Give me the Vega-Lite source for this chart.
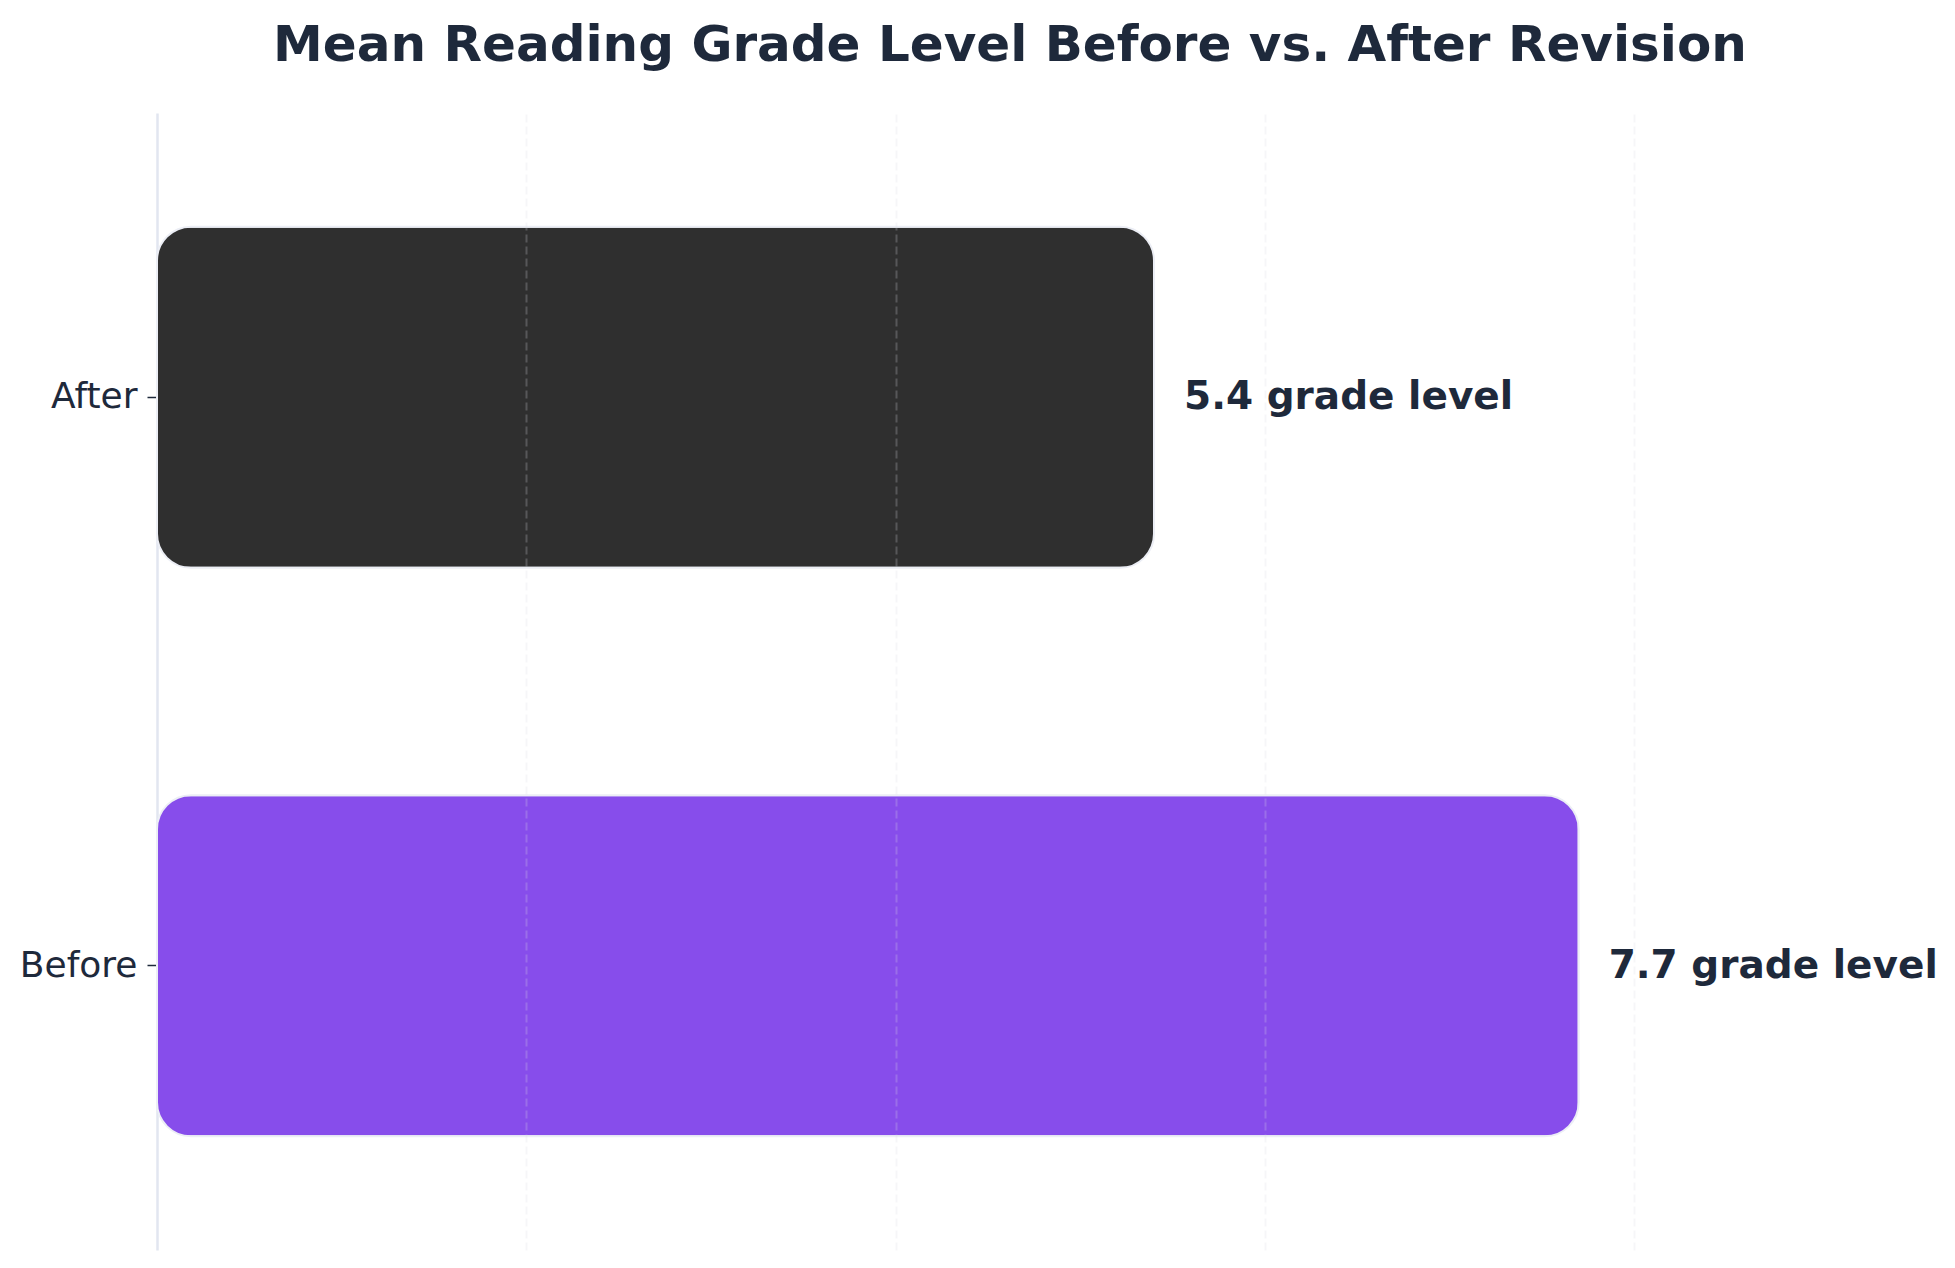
{
  "$schema": "https://vega.github.io/schema/vega-lite/v6.json",
  "autosize": {"type": "none"},
  "padding": {"left": 157, "top": 113, "right": 92, "bottom": 18},
  "width": 1706,
  "height": 1137,
  "background": "white",
  "title": {
    "text": "Mean Reading Grade Level Before vs. After Revision",
    "font": "DejaVu Sans",
    "fontSize": 50,
    "fontWeight": "bold",
    "color": "#1e293b",
    "anchor": "middle",
    "frame": "group",
    "baseline": "alphabetic",
    "offset": 2
  },
  "data": {
    "values": [
      {"stage": "After", "grade": 5.4, "label": "5.4 grade level"},
      {"stage": "Before", "grade": 7.7, "label": "7.7 grade level"}
    ]
  },
  "encoding": {
    "y": {
      "field": "stage",
      "type": "nominal",
      "sort": ["After", "Before"],
      "scale": {"paddingInner": 0.4, "paddingOuter": 0.2},
      "axis": {
        "title": null,
        "domain": true,
        "domainColor": "#e2e6f0",
        "domainWidth": 2.5,
        "ticks": true,
        "tickColor": "#1e293b",
        "tickSize": 10,
        "tickWidth": 1.5,
        "labelFont": "DejaVu Sans",
        "labelFontSize": 36,
        "labelColor": "#1e293b",
        "labelPadding": 10,
        "grid": false
      }
    },
    "x": {
      "field": "grade",
      "type": "quantitative",
      "scale": {"domain": [0, 9.24], "nice": false, "zero": true},
      "axis": {
        "title": null,
        "values": [2, 4, 6, 8],
        "grid": true,
        "gridDash": [8, 4],
        "gridColor": "#d8dae0",
        "gridOpacity": 0.24,
        "gridWidth": 2,
        "domain": false,
        "ticks": false,
        "labels": false,
        "zindex": 1
      }
    }
  },
  "layer": [
    {
      "mark": {
        "type": "bar",
        "cornerRadius": 34,
        "stroke": "#eceef5",
        "strokeWidth": 2
      },
      "encoding": {
        "color": {
          "field": "stage",
          "type": "nominal",
          "scale": {"domain": ["After", "Before"], "range": ["#2f2f2f", "#874deb"]},
          "legend": null
        }
      }
    },
    {
      "mark": {
        "type": "text",
        "align": "left",
        "baseline": "middle",
        "dx": 30,
        "font": "DejaVu Sans",
        "fontSize": 39,
        "fontWeight": "bold",
        "color": "#1e293b"
      },
      "encoding": {
        "text": {"field": "label"}
      }
    }
  ],
  "config": {
    "view": {"stroke": null}
  }
}
